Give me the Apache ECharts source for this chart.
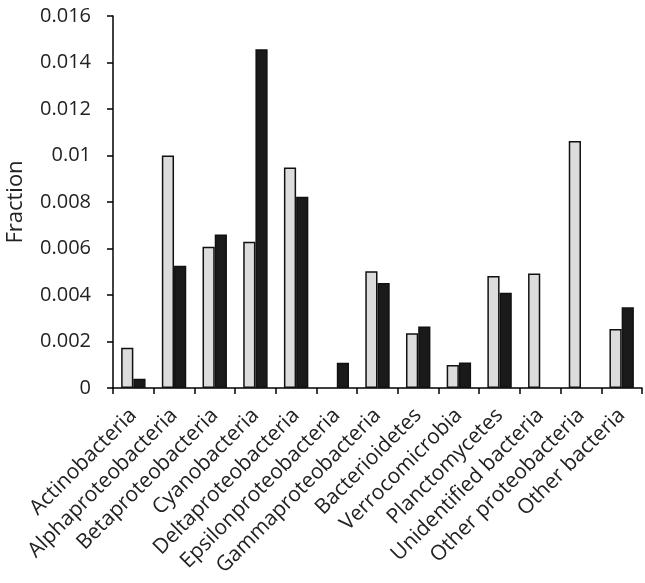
<!DOCTYPE html>
<html><head><meta charset="utf-8">
<script src="https://cdn.jsdelivr.net/npm/echarts@6/dist/echarts.min.js"></script>
<style>html,body{margin:0;padding:0;background:#fff}#c{width:645px;height:583px}</style>
</head><body><div id="c"></div>
<script>
const categories = ["Actinobacteria","Alphaproteobacteria","Betaproteobacteria","Cyanobacteria","Deltaproteobacteria","Epsilonproteobacteria","Gammaproteobacteria","Bacterioidetes","Verrocomicrobia","Planctomycetes","Unidentified bacteria","Other proteobacteria","Other bacteria"];
const lightValues = [0.00173,0.0100,0.00608,0.00629,0.00948,0,0.00502,0.00235,0.00099,0.00482,0.00492,0.01062,0.00254];
const darkValues  = [0.0004,0.00526,0.00660,0.01457,0.00823,0.00109,0.00452,0.00264,0.00110,0.00410,0,0,0.00347];
const yTickLabels = ["0","0.002","0.004","0.006","0.008","0.01","0.012","0.014","0.016"];
const FONT = "Open Sans";
const hideZero = arr => arr.map(v => v === 0 ? null : v);
const chart = echarts.init(document.getElementById('c'), null, {renderer:'canvas'});
chart.setOption({
  animation:false,
  grid:{left:113, right:3, top:16, bottom:195, containLabel:false, outerBoundsMode:'none'},
  xAxis:{type:'category', data:categories,
    axisLine:{lineStyle:{color:'#000', width:1.5}},
    axisTick:{show:true, length:6, lineStyle:{color:'#000', width:1.5}},
    axisLabel:{rotate:45, color:'#222', fontFamily:FONT, fontSize:21, margin:24, interval:0}
  },
  yAxis:{type:'value', min:0, max:0.016, interval:0.002,
    name:'Fraction', nameLocation:'middle', nameGap:86, nameRotate:90,
    nameTextStyle:{fontFamily:FONT, fontSize:22, color:'#222'},
    splitLine:{show:false},
    axisLine:{show:true, lineStyle:{color:'#000', width:1.5}},
    axisTick:{show:true, length:6, lineStyle:{color:'#000', width:1.5}},
    axisLabel:{color:'#222', fontFamily:FONT, fontSize:20, margin:22,
      formatter:(v,i)=>yTickLabels[i]}
  },
  series:[
    {type:'bar', data:hideZero(lightValues), barGap:'0%', barCategoryGap:'40%',
     itemStyle:{color:'#dcdcdc', borderColor:'#111', borderWidth:1.5}},
    {type:'bar', data:hideZero(darkValues), barGap:'0%', barCategoryGap:'40%',
     itemStyle:{color:'#1a1a1a', borderColor:'#111', borderWidth:1.5}}
  ]
});
</script></body></html>
